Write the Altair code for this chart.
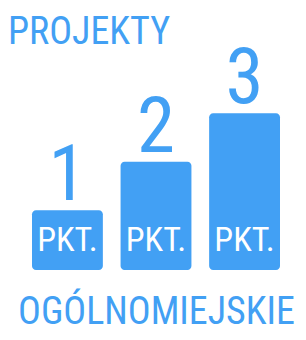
import altair as alt
import pandas as pd

categories = ["1", "2", "3"]
values = [1, 2, 3]
bar_labels = ["PKT.", "PKT.", "PKT."]
title_text = "PROJEKTY"
bottom_text = "OGÓLNOMIEJSKIE"

df = pd.DataFrame({"cat": categories, "value": values, "label": bar_labels})

BLUE = "#42a0f4"
FONT = "Liberation Sans Narrow, Roboto Condensed, DejaVu Sans Condensed, sans-serif"
BASE = -0.23

x_enc = alt.X(
    "cat:N",
    sort=categories,
    scale=alt.Scale(range=[24, 272], paddingInner=0.2, paddingOuter=0),
    axis=alt.Axis(
        labels=False, ticks=False, domain=False, grid=False,
        title=bottom_text, titleFont=FONT, titleFontSize=38,
        titleFontWeight="normal", titleColor=BLUE, titlePadding=23,
    ),
)
y_scale = alt.Scale(domain=[BASE, 3.93], nice=False, zero=False)

base = alt.Chart(df)

bars = base.mark_bar(color=BLUE, cornerRadius=4).encode(
    x=x_enc,
    y=alt.Y("value:Q", scale=y_scale, axis=None),
    y2=alt.datum(BASE),
)

numbers = base.mark_text(
    font=FONT, fontSize=77, color=BLUE, baseline="alphabetic", align="center", dy=-10
).encode(
    x=alt.X("cat:N", sort=categories),
    y=alt.Y("value:Q", scale=y_scale),
    text="cat:N",
)

pkt = base.mark_text(
    font=FONT, fontSize=34, color="white", baseline="middle", align="center", dy=-29
).encode(
    x=alt.X("cat:N", sort=categories),
    y=alt.datum(BASE),
    text="label:N",
)

chart = (
    alt.layer(bars, numbers, pkt)
    .properties(
        width=290,
        height=202,
        title=alt.TitleParams(
            title_text, anchor="start", font=FONT, fontSize=38,
            fontWeight="normal", color=BLUE, offset=-11, frame="group",
        ),
        padding={"left": 0, "right": 0, "top": 60, "bottom": 62},
        autosize=alt.AutoSizeParams(type="none"),
        background="white",
    )
    .configure_view(stroke=None)
)

chart.save("out.html", embed_options={"renderer": "svg", "actions": False})
